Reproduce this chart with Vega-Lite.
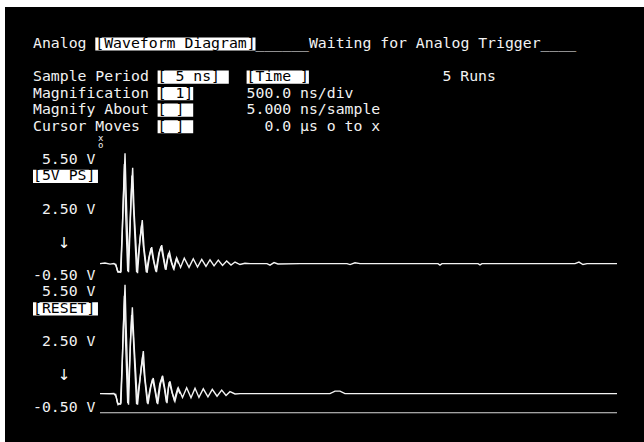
{
  "$schema": "https://vega.github.io/schema/vega-lite/v6.json",
  "width": 644,
  "height": 442,
  "autosize": {"type": "fit", "contains": "padding"},
  "padding": {"top": 7, "left": 5, "right": 0, "bottom": 0},
  "background": "white",
  "config": {"view": {"stroke": null, "fill": "black"}},
  "datasets": {
    "plain": [
      {"col": 0, "row": 0, "text": "Analog"},
      {"col": 25, "row": 0, "text": "______Waiting for Analog Trigger____"},
      {"col": 0, "row": 2, "text": "Sample Period"},
      {"col": 46, "row": 2, "text": "5 Runs"},
      {"col": 0, "row": 3, "text": "Magnification"},
      {"col": 24, "row": 3, "text": "500.0 ns/div"},
      {"col": 0, "row": 4, "text": "Magnify About"},
      {"col": 24, "row": 4, "text": "5.000 ns/sample"},
      {"col": 0, "row": 5, "text": "Cursor Moves"},
      {"col": 26, "row": 5, "text": "0.0 µs o to x"},
      {"col": 1, "row": 7, "text": "5.50 V"},
      {"col": 1, "row": 10, "text": "2.50 V"},
      {"col": 0, "row": 14, "text": "-0.50 V"},
      {"col": 1, "row": 15, "text": "5.50 V"},
      {"col": 1, "row": 18, "text": "2.50 V"},
      {"col": 0, "row": 22, "text": "-0.50 V"}
    ],
    "arrows": [
      {"col": 3.5, "row": 12, "text": "↓"},
      {"col": 3.5, "row": 20, "text": "↓"}
    ],
    "inverse": [
      {"col": 7, "colEnd": 25, "row": 0, "text": "[Waveform Diagram]"},
      {"col": 14, "colEnd": 22, "row": 2, "text": "[  5 ns]"},
      {"col": 24, "colEnd": 31, "row": 2, "text": "[Time ]"},
      {"col": 14, "colEnd": 18, "row": 3, "text": "[ 1]"},
      {"col": 14, "colEnd": 18, "row": 4, "text": "[  ]"},
      {"col": 14, "colEnd": 18, "row": 5, "text": "[  ]"},
      {"col": 0, "colEnd": 7.3, "row": 8, "text": "[5V PS]"},
      {"col": 0, "colEnd": 7.3, "row": 16, "text": "[RESET]"}
    ],
    "cursor": [
      {"col": 7.6, "row": 5.65, "text": "x"},
      {"col": 7.6, "row": 6.1, "text": "o"}
    ],
    "wave1": [
      {"run": "a", "t": 0, "v": 0.2}, {"run": "a", "t": 48, "v": 0.23}, {"run": "a", "t": 97, "v": 0.17}, {"run": "a", "t": 135, "v": 0.2},
      {"run": "a", "t": 155, "v": 0.1}, {"run": "a", "t": 174, "v": -0.25}, {"run": "a", "t": 203, "v": -0.22}, {"run": "a", "t": 222, "v": 3.0},
      {"run": "a", "t": 232, "v": 4.4}, {"run": "a", "t": 242, "v": 5.95}, {"run": "a", "t": 251, "v": 4.2}, {"run": "a", "t": 276, "v": -0.25},
      {"run": "a", "t": 300, "v": 3.5}, {"run": "a", "t": 316, "v": 5.2}, {"run": "a", "t": 329, "v": 3.0}, {"run": "a", "t": 363, "v": -0.3},
      {"run": "a", "t": 387, "v": 1.5}, {"run": "a", "t": 409, "v": 2.47}, {"run": "a", "t": 426, "v": 1.0}, {"run": "a", "t": 455, "v": -0.28},
      {"run": "a", "t": 479, "v": 0.6}, {"run": "a", "t": 500, "v": 1.06}, {"run": "a", "t": 522, "v": 0.3}, {"run": "a", "t": 546, "v": -0.25},
      {"run": "a", "t": 575, "v": 0.8}, {"run": "a", "t": 597, "v": 1.16}, {"run": "a", "t": 619, "v": 0.4}, {"run": "a", "t": 638, "v": -0.13},
      {"run": "a", "t": 658, "v": 0.6}, {"run": "a", "t": 672, "v": 0.8}, {"run": "a", "t": 696, "v": 0.2}, {"run": "a", "t": 716, "v": -0.08},
      {"run": "a", "t": 742, "v": 0.5}, {"run": "a", "t": 779, "v": 0.0}, {"run": "a", "t": 815, "v": 0.48}, {"run": "a", "t": 861, "v": 0.0},
      {"run": "a", "t": 902, "v": 0.45}, {"run": "a", "t": 943, "v": 0.02}, {"run": "a", "t": 984, "v": 0.42}, {"run": "a", "t": 1025, "v": 0.05},
      {"run": "a", "t": 1064, "v": 0.4}, {"run": "a", "t": 1103, "v": 0.08}, {"run": "a", "t": 1144, "v": 0.38}, {"run": "a", "t": 1185, "v": 0.1},
      {"run": "a", "t": 1225, "v": 0.33}, {"run": "a", "t": 1267, "v": 0.12}, {"run": "a", "t": 1306, "v": 0.28}, {"run": "a", "t": 1354, "v": 0.15},
      {"run": "a", "t": 1402, "v": 0.22}, {"run": "a", "t": 1451, "v": 0.2}, {"run": "a", "t": 1615, "v": 0.2}, {"run": "a", "t": 1644, "v": 0.12},
      {"run": "a", "t": 1683, "v": 0.25}, {"run": "a", "t": 1721, "v": 0.18}, {"run": "a", "t": 1934, "v": 0.2}, {"run": "a", "t": 2389, "v": 0.2},
      {"run": "a", "t": 2418, "v": 0.15}, {"run": "a", "t": 2466, "v": 0.24}, {"run": "a", "t": 2515, "v": 0.2}, {"run": "a", "t": 2901, "v": 0.2},
      {"run": "a", "t": 3269, "v": 0.2}, {"run": "a", "t": 3288, "v": 0.12}, {"run": "a", "t": 3307, "v": 0.2}, {"run": "a", "t": 3656, "v": 0.2},
      {"run": "a", "t": 3675, "v": 0.13}, {"run": "a", "t": 3694, "v": 0.2}, {"run": "a", "t": 4158, "v": 0.2}, {"run": "a", "t": 4594, "v": 0.2},
      {"run": "a", "t": 4632, "v": 0.28}, {"run": "a", "t": 4671, "v": 0.15}, {"run": "a", "t": 4710, "v": 0.2}, {"run": "a", "t": 5000, "v": 0.2},
      {"run": "b", "t": 150, "v": 0.2}, {"run": "b", "t": 170, "v": -0.2}, {"run": "b", "t": 198, "v": -0.25}, {"run": "b", "t": 215, "v": 1.8},
      {"run": "b", "t": 236, "v": 5.4}, {"run": "b", "t": 247, "v": 3.0}, {"run": "b", "t": 268, "v": -0.2}, {"run": "b", "t": 290, "v": 2.2},
      {"run": "b", "t": 309, "v": 4.8}, {"run": "b", "t": 322, "v": 3.4}, {"run": "b", "t": 354, "v": -0.25}, {"run": "b", "t": 380, "v": 1.1},
      {"run": "b", "t": 402, "v": 2.2}, {"run": "b", "t": 418, "v": 1.2}, {"run": "b", "t": 448, "v": -0.25}, {"run": "b", "t": 472, "v": 0.5},
      {"run": "b", "t": 494, "v": 1.0}, {"run": "b", "t": 516, "v": 0.4}, {"run": "b", "t": 540, "v": -0.2}, {"run": "b", "t": 568, "v": 0.7},
      {"run": "b", "t": 590, "v": 1.1}, {"run": "b", "t": 612, "v": 0.5}, {"run": "b", "t": 632, "v": -0.1}, {"run": "b", "t": 664, "v": 0.75},
      {"run": "b", "t": 688, "v": 0.3}, {"run": "b", "t": 710, "v": -0.05}, {"run": "b", "t": 738, "v": 0.45}, {"run": "b", "t": 760, "v": 0.2}
    ],
    "wave2": [
      {"run": "a", "t": 0, "v": 0.2}, {"run": "a", "t": 97, "v": 0.19}, {"run": "a", "t": 135, "v": 0.2}, {"run": "a", "t": 155, "v": 0.05},
      {"run": "a", "t": 174, "v": -0.38}, {"run": "a", "t": 203, "v": -0.3}, {"run": "a", "t": 222, "v": 3.0}, {"run": "a", "t": 232, "v": 4.5},
      {"run": "a", "t": 242, "v": 5.88}, {"run": "a", "t": 251, "v": 4.0}, {"run": "a", "t": 276, "v": -0.38}, {"run": "a", "t": 295, "v": 3.0},
      {"run": "a", "t": 313, "v": 4.7}, {"run": "a", "t": 329, "v": 2.8}, {"run": "a", "t": 363, "v": -0.38}, {"run": "a", "t": 397, "v": 1.5},
      {"run": "a", "t": 419, "v": 2.42}, {"run": "a", "t": 435, "v": 1.0}, {"run": "a", "t": 464, "v": -0.35}, {"run": "a", "t": 493, "v": 0.6},
      {"run": "a", "t": 515, "v": 1.01}, {"run": "a", "t": 537, "v": 0.3}, {"run": "a", "t": 558, "v": -0.35}, {"run": "a", "t": 585, "v": 0.7},
      {"run": "a", "t": 606, "v": 1.12}, {"run": "a", "t": 629, "v": 0.4}, {"run": "a", "t": 648, "v": -0.3}, {"run": "a", "t": 663, "v": 0.6},
      {"run": "a", "t": 677, "v": 0.84}, {"run": "a", "t": 701, "v": 0.2}, {"run": "a", "t": 725, "v": -0.2}, {"run": "a", "t": 757, "v": 0.5},
      {"run": "a", "t": 798, "v": 0.0}, {"run": "a", "t": 838, "v": 0.5}, {"run": "a", "t": 880, "v": -0.02}, {"run": "a", "t": 919, "v": 0.48},
      {"run": "a", "t": 957, "v": 0.0}, {"run": "a", "t": 999, "v": 0.45}, {"run": "a", "t": 1044, "v": 0.03}, {"run": "a", "t": 1086, "v": 0.42},
      {"run": "a", "t": 1132, "v": 0.06}, {"run": "a", "t": 1177, "v": 0.38}, {"run": "a", "t": 1219, "v": 0.1}, {"run": "a", "t": 1257, "v": 0.3},
      {"run": "a", "t": 1306, "v": 0.18}, {"run": "a", "t": 1354, "v": 0.2}, {"run": "a", "t": 2224, "v": 0.2}, {"run": "a", "t": 2273, "v": 0.33},
      {"run": "a", "t": 2321, "v": 0.33}, {"run": "a", "t": 2369, "v": 0.2}, {"run": "a", "t": 2901, "v": 0.2}, {"run": "a", "t": 5000, "v": 0.2},
      {"run": "b", "t": 150, "v": 0.2}, {"run": "b", "t": 170, "v": -0.3}, {"run": "b", "t": 198, "v": -0.35}, {"run": "b", "t": 215, "v": 1.8},
      {"run": "b", "t": 236, "v": 5.3}, {"run": "b", "t": 247, "v": 3.0}, {"run": "b", "t": 268, "v": -0.3}, {"run": "b", "t": 288, "v": 2.0},
      {"run": "b", "t": 306, "v": 4.3}, {"run": "b", "t": 322, "v": 3.2}, {"run": "b", "t": 354, "v": -0.35}, {"run": "b", "t": 390, "v": 1.1},
      {"run": "b", "t": 412, "v": 2.1}, {"run": "b", "t": 428, "v": 1.2}, {"run": "b", "t": 458, "v": -0.3}, {"run": "b", "t": 486, "v": 0.5},
      {"run": "b", "t": 508, "v": 0.95}, {"run": "b", "t": 530, "v": 0.4}, {"run": "b", "t": 552, "v": -0.3}, {"run": "b", "t": 578, "v": 0.7},
      {"run": "b", "t": 600, "v": 1.05}, {"run": "b", "t": 622, "v": 0.5}, {"run": "b", "t": 642, "v": -0.25}, {"run": "b", "t": 670, "v": 0.8},
      {"run": "b", "t": 694, "v": 0.3}, {"run": "b", "t": 718, "v": -0.15}, {"run": "b", "t": 750, "v": 0.45}, {"run": "b", "t": 775, "v": 0.2}
    ],
    "ref2": [
      {"t": 0, "v": -0.8}, {"t": 5000, "v": -0.8}
    ]
  },
  "resolve": {"scale": {"x": "independent", "y": "independent"}},
  "layer": [
    {
      "data": {"name": "inverse"},
      "transform": [
        {"calculate": "datum.row - 0.4", "as": "rowTop"},
        {"calculate": "datum.row + 0.4", "as": "rowBottom"}
      ],
      "mark": {"type": "rect", "color": "white"},
      "encoding": {
        "x": {"field": "col", "type": "quantitative", "axis": null, "scale": {"domain": [0, 60], "range": [28, 562], "nice": false, "zero": false}},
        "x2": {"field": "colEnd"},
        "y": {"field": "rowTop", "type": "quantitative", "axis": null, "scale": {"domain": [0, 22], "range": [37, 401.1], "nice": false, "zero": false}},
        "y2": {"field": "rowBottom"}
      }
    },
    {
      "data": {"name": "inverse"},
      "mark": {"type": "text", "align": "left", "baseline": "middle", "font": "DejaVu Sans Mono", "fontSize": 14.8, "color": "black"},
      "encoding": {
        "x": {"field": "col", "type": "quantitative", "axis": null, "scale": {"domain": [0, 60], "range": [28, 562], "nice": false, "zero": false}},
        "y": {"field": "row", "type": "quantitative", "axis": null, "scale": {"domain": [0, 22], "range": [37, 401.1], "nice": false, "zero": false}},
        "text": {"field": "text"}
      }
    },
    {
      "data": {"name": "plain"},
      "mark": {"type": "text", "align": "left", "baseline": "middle", "font": "DejaVu Sans Mono", "fontSize": 14.8, "color": "#f2f2f2"},
      "encoding": {
        "x": {"field": "col", "type": "quantitative", "axis": null, "scale": {"domain": [0, 60], "range": [28, 562], "nice": false, "zero": false}},
        "y": {"field": "row", "type": "quantitative", "axis": null, "scale": {"domain": [0, 22], "range": [37, 401.1], "nice": false, "zero": false}},
        "text": {"field": "text"}
      }
    },
    {
      "data": {"name": "arrows"},
      "mark": {"type": "text", "align": "center", "baseline": "middle", "font": "DejaVu Sans", "fontSize": 15, "color": "#ffffff"},
      "encoding": {
        "x": {"field": "col", "type": "quantitative", "axis": null, "scale": {"domain": [0, 60], "range": [28, 562], "nice": false, "zero": false}},
        "y": {"field": "row", "type": "quantitative", "axis": null, "scale": {"domain": [0, 22], "range": [37, 401.1], "nice": false, "zero": false}},
        "text": {"field": "text"}
      }
    },
    {
      "data": {"name": "cursor"},
      "mark": {"type": "text", "align": "center", "baseline": "middle", "font": "DejaVu Sans Mono", "fontSize": 9, "color": "#f2f2f2"},
      "encoding": {
        "x": {"field": "col", "type": "quantitative", "axis": null, "scale": {"domain": [0, 60], "range": [28, 562], "nice": false, "zero": false}},
        "y": {"field": "row", "type": "quantitative", "axis": null, "scale": {"domain": [0, 22], "range": [37, 401.1], "nice": false, "zero": false}},
        "text": {"field": "text"}
      }
    },
    {
      "data": {"name": "wave1"},
      "mark": {"type": "line", "color": "#f4f4f4", "strokeWidth": 1.4},
      "encoding": {
        "x": {"field": "t", "type": "quantitative", "axis": null, "scale": {"domain": [0, 5000], "range": [95, 612], "nice": false, "zero": false}},
        "y": {"field": "v", "type": "quantitative", "axis": null, "scale": {"domain": [-0.5, 5.5], "range": [270, 155], "nice": false, "zero": false}},
        "detail": {"field": "run", "type": "nominal"}
      }
    },
    {
      "data": {"name": "wave2"},
      "mark": {"type": "line", "color": "#f4f4f4", "strokeWidth": 1.4},
      "encoding": {
        "x": {"field": "t", "type": "quantitative", "axis": null, "scale": {"domain": [0, 5000], "range": [95, 612], "nice": false, "zero": false}},
        "y": {"field": "v", "type": "quantitative", "axis": null, "scale": {"domain": [-0.5, 5.5], "range": [400, 285], "nice": false, "zero": false}},
        "detail": {"field": "run", "type": "nominal"}
      }
    },
    {
      "data": {"name": "ref2"},
      "mark": {"type": "line", "color": "#d8d8d8", "strokeWidth": 1.1},
      "encoding": {
        "x": {"field": "t", "type": "quantitative", "axis": null, "scale": {"domain": [0, 5000], "range": [95, 612], "nice": false, "zero": false}},
        "y": {"field": "v", "type": "quantitative", "axis": null, "scale": {"domain": [-0.5, 5.5], "range": [400, 285], "nice": false, "zero": false}}
      }
    }
  ]
}
